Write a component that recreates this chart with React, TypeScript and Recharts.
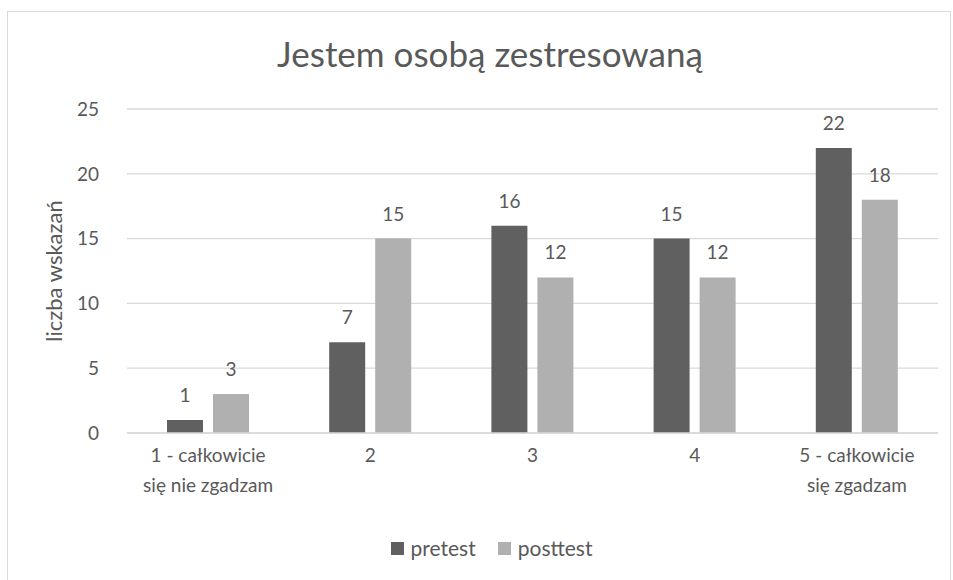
import React from 'react';
import { BarChart, Bar, XAxis, YAxis, CartesianGrid, Legend, LabelList } from 'recharts';

// ─── Data ────────────────────────────────────────────────────────────────────

const categories = ['1 - całkowicie\nsię nie zgadzam', '2', '3', '4', '5 - całkowicie\nsię zgadzam'];
const pretest = [1, 7, 16, 15, 22];
const posttest = [3, 15, 12, 12, 18];
const yTicks = [0, 5, 10, 15, 20, 25];
const seriesNames = ['pretest', 'posttest'];
const seriesColors = ['#606060', '#b0b0b0'];

const rows = categories.map((name, i) => ({ name, pretest: pretest[i], posttest: posttest[i] }));

const FONT = 'Lato, "Open Sans", sans-serif';
const TEXT = '#595959';

// ─── Custom tick (multiline category names) ──────────────────────────────────

function CategoryTick({ x, y, payload }: any) {
  const lines = String(payload.value).split('\n');
  return (
    <text x={x} y={y} textAnchor="middle" fill={TEXT} fontSize={19} fontFamily={FONT}>
      {lines.map((l, i) => (
        <tspan key={i} x={x} dy={i === 0 ? 21 : 30}>
          {l}
        </tspan>
      ))}
    </text>
  );
}

// ─── Legend in series order ──────────────────────────────────────────────────

function SeriesLegend() {
  return (
    <div
      style={{
        display: 'flex',
        justifyContent: 'center',
        gap: 22,
        fontFamily: FONT,
        fontSize: 21,
        color: TEXT,
        lineHeight: '26px',
        paddingRight: 22,
      }}
    >
      {seriesNames.map((n, i) => (
        <span key={n} style={{ display: 'inline-flex', alignItems: 'center' }}>
          <span style={{ display: 'inline-block', width: 13, height: 13, background: seriesColors[i], marginRight: 7 }} />
          {n}
        </span>
      ))}
    </div>
  );
}

export default function App() {
  return (
    <div style={{ position: 'absolute', left: 0, top: 0, width: 953, height: 580, overflow: 'hidden', background: '#fff' }}>
      <div
        style={{
          position: 'absolute',
          left: 7,
          top: 11,
          width: 944,
          height: 600,
          border: '1px solid #d9d9d9',
          boxSizing: 'border-box',
        }}
      />
      <div
        style={{
          position: 'absolute',
          left: 490,
          top: 33,
          transform: 'translateX(-50%)',
          whiteSpace: 'nowrap',
          fontFamily: FONT,
          fontSize: 35,
          color: TEXT,
          lineHeight: '40px',
        }}
      >
        Jestem osobą zestresowaną
      </div>
      <div style={{ position: 'absolute', left: 0, top: 0 }}>
        <BarChart
          width={953}
          height={580}
          data={rows}
          margin={{ top: 109, right: 15, left: 67, bottom: 19 }}
          barSize={36}
          barGap={10}
        >
          <CartesianGrid vertical={false} stroke="#d9d9d9" strokeWidth={1.3} />
          <XAxis
            dataKey="name"
            tick={<CategoryTick />}
            tickLine={false}
            axisLine={{ stroke: '#d9d9d9', strokeWidth: 1.3 }}
            interval={0}
            height={102}
          />
          <YAxis
            width={60}
            domain={[0, 25]}
            ticks={yTicks}
            tickLine={false}
            axisLine={false}
            tick={{ fill: TEXT, fontSize: 19, fontFamily: FONT }}
            tickMargin={22}
            label={{
              value: 'liczba wskazań',
              angle: -90,
              position: 'left',
              offset: 13,
              fill: TEXT,
              style: { textAnchor: 'middle', fontSize: 22, fontFamily: FONT },
            }}
          />
          <Legend verticalAlign="bottom" align="center" content={<SeriesLegend />} />
          <Bar dataKey="pretest" name="pretest" fill={seriesColors[0]} isAnimationActive={false}>
            <LabelList dataKey="pretest" position="top" offset={18} fill={TEXT} fontSize={19} fontFamily={FONT} />
          </Bar>
          <Bar dataKey="posttest" name="posttest" fill={seriesColors[1]} isAnimationActive={false}>
            <LabelList dataKey="posttest" position="top" offset={18} fill={TEXT} fontSize={19} fontFamily={FONT} />
          </Bar>
        </BarChart>
      </div>
    </div>
  );
}
